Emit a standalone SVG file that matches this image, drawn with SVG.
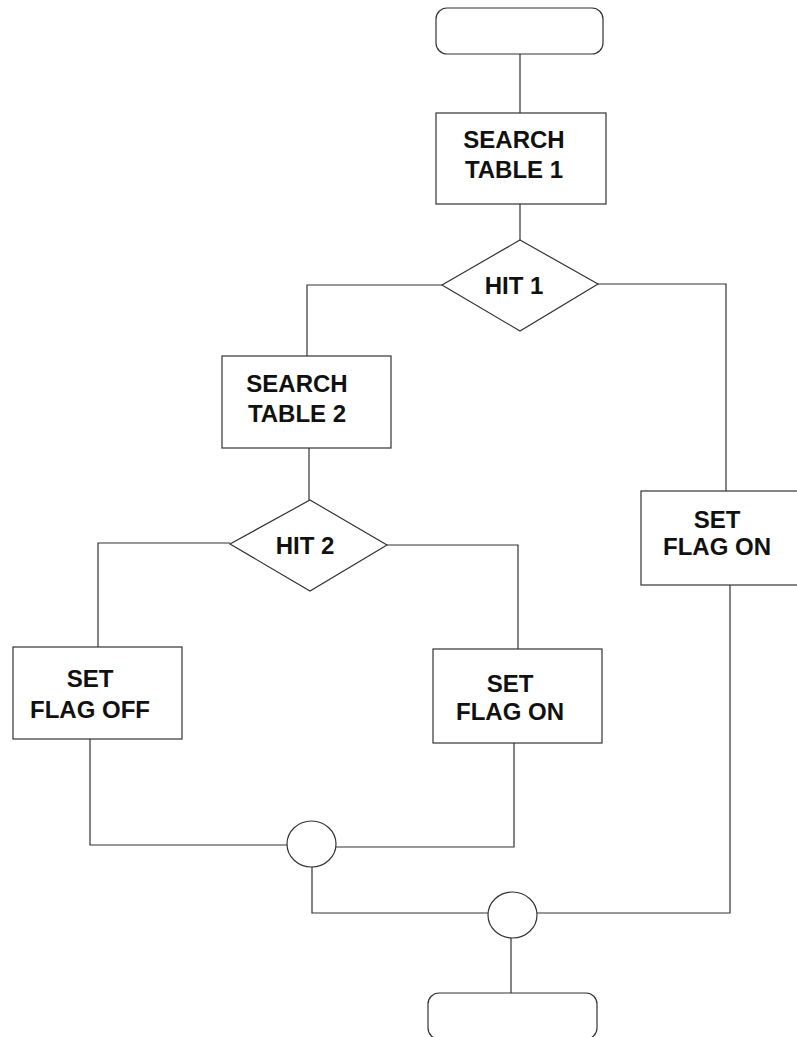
<svg xmlns="http://www.w3.org/2000/svg" width="797" height="1037" viewBox="0 0 797 1037">
<style>
.s{fill:#fff;stroke:#333;stroke-width:1.2}
.c{fill:none;stroke:#333;stroke-width:1.2}
.t{font-family:"Liberation Sans",Arial,sans-serif;font-weight:bold;font-size:24px;fill:#111;text-anchor:middle}
</style>
<rect width="797" height="1037" fill="#fff"/>
<g id="connectors">
<path class="c" d="M520,54 V113"/>
<path class="c" d="M520,204 V240"/>
<path class="c" d="M442,285 H307 V356"/>
<path class="c" d="M598,284 H726 V491"/>
<path class="c" d="M309,448 V500"/>
<path class="c" d="M230,543 H98 V647"/>
<path class="c" d="M387,545 H518 V649"/>
<path class="c" d="M90,739 V845 H287"/>
<path class="c" d="M514,743 V847 H336"/>
<path class="c" d="M312,867 V913 H488"/>
<path class="c" d="M730,585 V913 H537"/>
<path class="c" d="M511,938 V993"/>
</g>
<g id="start"><rect class="s" x="436" y="8" width="167" height="46" rx="11"/></g>
<g id="search1"><rect class="s" x="436" y="113" width="170" height="91"/><text class="t" x="514" y="148">SEARCH</text><text class="t" x="514" y="178">TABLE 1</text></g>
<g id="hit1"><polygon class="s" points="520,240 598,284 520,331 442,285"/><text class="t" x="514" y="294">HIT 1</text></g>
<g id="search2"><rect class="s" x="222" y="356" width="169" height="92"/><text class="t" x="297" y="392">SEARCH</text><text class="t" x="297" y="422">TABLE 2</text></g>
<g id="flagon1"><rect class="s" x="641" y="491" width="160" height="94"/><text class="t" x="717" y="528">SET</text><text class="t" x="717" y="555">FLAG ON</text></g>
<g id="hit2"><polygon class="s" points="310,500 387,545 310,591 230,544"/><text class="t" x="305" y="554">HIT 2</text></g>
<g id="flagoff"><rect class="s" x="13" y="647" width="169" height="92"/><text class="t" x="90" y="687">SET</text><text class="t" x="90" y="718">FLAG OFF</text></g>
<g id="flagon2"><rect class="s" x="433" y="649" width="169" height="94"/><text class="t" x="510" y="692">SET</text><text class="t" x="510" y="720">FLAG ON</text></g>
<g id="join1"><ellipse class="s" cx="311.5" cy="844" rx="24.5" ry="23"/></g>
<g id="join2"><ellipse class="s" cx="512.5" cy="915" rx="24.5" ry="23"/></g>
<g id="end"><rect class="s" x="428" y="993" width="169" height="46" rx="11"/></g>
</svg>
